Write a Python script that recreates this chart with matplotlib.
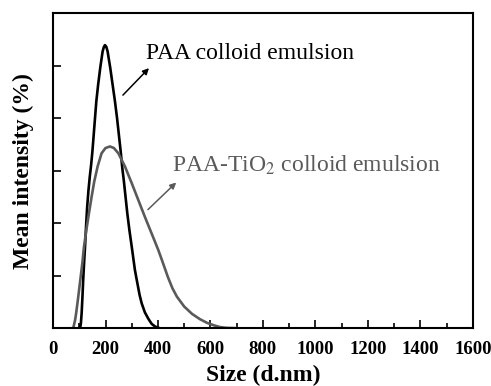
import matplotlib
matplotlib.use('Agg')
import matplotlib.pyplot as plt

plt.rcParams['font.family'] = 'Liberation Serif'
plt.rcParams['mathtext.fontset'] = 'stix'

# size (d.nm) and mean intensity
paa_size = [100, 103, 106, 109, 112, 115, 119, 122, 126, 130, 135, 140, 145, 150,
            155, 160, 165, 172, 180, 189, 194, 198, 203, 208, 218, 227, 236, 244,
            251, 258, 264, 270, 283, 291, 300, 312, 319, 330, 338, 350, 363, 376,
            389, 405]
paa_int = [0.0, 0.0, 0.08, 0.28, 0.58, 0.92, 1.30, 1.55, 1.95, 2.30, 2.62, 2.88, 3.10, 3.36,
           3.68, 4.00, 4.32, 4.64, 4.96, 5.27, 5.36, 5.39, 5.36, 5.27, 4.96, 4.64, 4.32, 4.00,
           3.68, 3.36, 3.05, 2.80, 2.19, 1.87, 1.55, 1.11, 0.92, 0.63, 0.47, 0.30, 0.18, 0.08,
           0.03, 0.0]

tio2_size = [74, 78, 84, 88, 95, 104, 112, 118, 128, 137, 147, 157, 170, 185, 200,
             217, 232, 249, 274, 300, 325, 350, 376, 401, 414, 426, 438, 455, 472,
             500, 530, 560, 587, 615, 636, 660, 690, 700]
tio2_int = [0.0, 0.02, 0.15, 0.28, 0.55, 0.92, 1.25, 1.55, 1.90, 2.19, 2.50, 2.79, 3.08, 3.33, 3.43,
            3.46, 3.43, 3.33, 3.08, 2.76, 2.44, 2.12, 1.80, 1.49, 1.31, 1.14, 0.97, 0.76, 0.60,
            0.41, 0.27, 0.17, 0.10, 0.05, 0.02, 0.005, 0.0, 0.0]

xticks = [0, 200, 400, 600, 800, 1000, 1200, 1400, 1600]
gray = '#5a5a5a'

fig = plt.figure(figsize=(4.91, 3.86), dpi=100)
ax = fig.add_axes([0.108, 0.150, 0.855, 0.816])

ax.plot(paa_size, paa_int, color='black', lw=1.9, solid_joinstyle='round')
ax.plot(tio2_size, tio2_int, color=gray, lw=1.9, solid_joinstyle='round')

ax.annotate('', xy=(373, 4.99), xytext=(259, 4.40),
            arrowprops=dict(arrowstyle='-|>', color='black', lw=1.1, mutation_scale=9))
ax.annotate('', xy=(477, 2.81), xytext=(354, 2.22),
            arrowprops=dict(arrowstyle='-|>', color=gray, lw=1.1, mutation_scale=9))

ax.text(354, 5.13, 'PAA colloid emulsion', fontsize=17, va='baseline', color='black')
ax.text(452, 2.98, 'PAA-TiO$_2$ colloid emulsion', fontsize=17, va='baseline', color=gray)

ax.set_xlim(0, 1600)
ax.set_ylim(0, 6)
ax.set_xticks(xticks)
ax.set_xticks(range(100, 1600, 200), minor=True)
ax.set_yticks([1, 2, 3, 4, 5])
ax.tick_params(axis='both', which='major', direction='in', length=6, width=1.2)
ax.tick_params(axis='x', which='minor', direction='in', length=3.5, width=1.2)
ax.tick_params(axis='x', labelsize=13.5, pad=9)
ax.tick_params(axis='y', labelleft=False)
for lab in ax.get_xticklabels():
    lab.set_fontweight('bold')
for sp in ax.spines.values():
    sp.set_linewidth(1.5)

ax.set_xlabel('Size (d.nm)', fontsize=17, fontweight='bold', labelpad=5)
ax.set_ylabel('Mean intensity (%)', fontsize=17, fontweight='bold', labelpad=14)

fig.savefig('out.png', dpi=100)
